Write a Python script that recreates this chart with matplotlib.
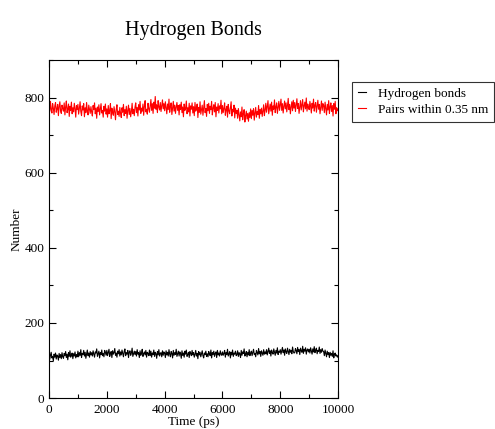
import matplotlib
matplotlib.use('Agg')
import matplotlib.pyplot as plt
import numpy as np
from matplotlib.ticker import MultipleLocator

# Pairs within 0.35 nm (red), one value every 25 ps
pairs = [
    781, 763, 790, 768, 759, 784, 772, 755, 778, 787, 761, 770, 782, 752, 776, 789, 765, 758, 780, 771,
    764, 786, 754, 775, 791, 760, 769, 783, 750, 777, 766, 788, 757, 773, 762, 785, 771, 748, 779, 768,
    782, 756, 771, 789, 763, 752, 778, 767, 784, 749, 773, 760, 787, 765, 754, 780, 769, 758, 776, 762,
    751, 779, 768, 786, 757, 772, 745, 775, 763, 781, 754, 770, 784, 759, 766, 748, 777, 764, 783, 756,
    770, 748, 779, 757, 765, 784, 744, 772, 760, 753, 776, 762, 741, 769, 781, 755, 764, 750, 774, 758,
    747, 773, 761, 782, 752, 768, 758, 777, 745, 766, 780, 755, 771, 749, 763, 785, 757, 769, 752, 775,
    786, 760, 774, 751, 781, 767, 790, 758, 772, 764, 783, 753, 777, 792, 762, 769, 756, 785, 771, 761,
    779, 795, 766, 784, 758, 788, 772, 803, 769, 781, 760, 792, 775, 767, 787, 763, 779, 794, 770, 784,
    765, 789, 774, 757, 783, 768, 796, 761, 777, 786, 755, 772, 790, 764, 780, 758, 775, 787, 766, 779,
    754, 781, 768, 788, 760, 775, 749, 783, 766, 771, 791, 757, 773, 762, 785, 751, 778, 769, 786, 759,
    776, 752, 787, 764, 770, 783, 747, 774, 761, 789, 756, 768, 780, 753, 773, 792, 760, 771, 750, 782,
    765, 785, 758, 777, 768, 790, 754, 772, 781, 762, 787, 749, 775, 766, 784, 759, 778, 770, 793, 757,
    779, 760, 771, 786, 753, 768, 777, 748, 782, 765, 757, 774, 789, 751, 769, 762, 780, 746, 772, 758,
    766, 745, 771, 754, 738, 762, 749, 775, 741, 757, 768, 735, 752, 764, 743, 758, 737, 760, 747, 770,
    744, 766, 753, 771, 740, 759, 774, 748, 763, 755, 779, 745, 768, 757, 772, 750, 764, 781, 752, 767,
    785, 761, 776, 792, 757, 771, 783, 764, 788, 753, 778, 769, 794, 760, 775, 786, 758, 773, 790, 766,
    781, 796, 766, 784, 759, 777, 791, 770, 786, 762, 779, 798, 768, 782, 757, 775, 789, 765, 793, 772,
    787, 763, 780, 797, 771, 784, 758, 776, 792, 767, 781, 795, 762, 778, 788, 770, 799, 764, 783, 774,
    768, 790, 776, 759, 785, 772, 796, 764, 780, 787, 761, 777, 793, 769, 782, 757, 775, 791, 766, 784,
    779, 760, 788, 771, 754, 782, 767, 792, 758, 775, 786, 763, 779, 751, 784, 769, 790, 757, 773, 765,
    770,
]

# Hydrogen bonds (black)
hbonds = [
    118, 103, 114, 122, 107, 111, 99, 117, 109, 120, 104, 115, 112, 101, 119, 108, 116, 105, 121, 110,
    106, 119, 113, 124, 108, 117, 102, 121, 111, 126, 109, 114, 120, 105, 118, 112, 123, 107, 116, 110,
    125, 110, 121, 114, 129, 108, 119, 116, 127, 112, 122, 106, 118, 128, 113, 120, 109, 124, 115, 121,
    112, 126, 117, 109, 123, 120, 131, 111, 118, 125, 107, 121, 116, 128, 113, 119, 110, 127, 122, 114,
    127, 113, 122, 130, 111, 119, 124, 108, 126, 117, 121, 132, 114, 120, 109, 125, 118, 129, 112, 123,
    115, 128, 119, 110, 124, 131, 113, 121, 117, 127, 108, 122, 126, 114, 120, 133, 111, 118, 125, 116,
    124, 112, 129, 117, 121, 108, 126, 114, 120, 130, 111, 118, 123, 115, 127, 109, 122, 119, 113, 128,
    113, 125, 109, 120, 116, 128, 111, 122, 118, 106, 124, 115, 129, 112, 119, 121, 110, 126, 114, 123,
    120, 108, 126, 115, 122, 112, 129, 117, 110, 124, 119, 107, 127, 114, 121, 116, 130, 111, 118, 125,
    112, 123, 118, 106, 126, 114, 120, 109, 125, 117, 128, 111, 116, 122, 108, 124, 119, 113, 127, 115,
    121, 109, 117, 127, 112, 119, 105, 124, 115, 122, 110, 118, 126, 113, 107, 120, 116, 125, 111, 118,
    110, 124, 118, 113, 128, 107, 121, 116, 125, 111, 119, 123, 108, 127, 115, 120, 112, 126, 117, 114,
    123, 114, 119, 127, 109, 121, 116, 130, 112, 118, 124, 107, 122, 115, 128, 111, 120, 117, 125, 113,
    116, 126, 111, 121, 118, 108, 127, 114, 123, 119, 131, 112, 117, 124, 110, 122, 115, 129, 113, 120,
    125, 113, 122, 130, 116, 119, 110, 127, 121, 115, 132, 118, 124, 111, 126, 120, 114, 129, 117, 123,
    118, 129, 115, 124, 133, 119, 126, 112, 128, 121, 117, 131, 123, 114, 127, 120, 134, 116, 125, 122,
    129, 117, 126, 135, 121, 128, 114, 131, 123, 119, 133, 125, 116, 130, 122, 127, 118, 136, 124, 120,
    121, 132, 127, 118, 135, 124, 129, 116, 133, 126, 122, 138, 119, 130, 125, 134, 117, 128, 131, 123,
    130, 120, 134, 126, 117, 131, 123, 137, 121, 128, 133, 118, 127, 124, 136, 119, 129, 122, 132, 125,
    124, 113, 128, 119, 110, 125, 116, 121, 108, 122, 114, 119, 111, 126, 107, 117, 120, 112, 115, 109,
    113,
]

dt = 25  # ps
time = np.arange(len(pairs)) * dt

plt.rcParams['font.family'] = ['Liberation Serif', 'DejaVu Serif']

fig = plt.figure(figsize=(4.95, 4.29), dpi=100)
ax = fig.add_axes([0.099, 0.072, 0.584, 0.788])

ax.plot(time, hbonds, color='black', lw=0.8, label='Hydrogen bonds')
ax.plot(time, pairs, color='red', lw=0.8, label='Pairs within 0.35 nm')

ax.set_xlim(0, 10000)
ax.set_ylim(0, 900)
ax.xaxis.set_major_locator(MultipleLocator(2000))
ax.xaxis.set_minor_locator(MultipleLocator(1000))
ax.yaxis.set_major_locator(MultipleLocator(200))
ax.yaxis.set_minor_locator(MultipleLocator(100))
ax.tick_params(which='both', direction='in', top=True, right=True, labelsize=9.5)
ax.tick_params(axis='x', pad=4)
ax.tick_params(axis='y', pad=3.5)
ax.tick_params(which='major', length=5, width=0.8)
ax.tick_params(which='minor', length=3, width=0.8)
for s in ax.spines.values():
    s.set_linewidth(0.8)

ax.set_xlabel('Time (ps)', fontsize=9.5, labelpad=0)
ax.set_ylabel('Number', fontsize=9.5, labelpad=1)
fig.text(0.391, 0.93, 'Hydrogen Bonds', ha='center', va='center', fontsize=14.5)

leg = fig.legend(loc='upper left', bbox_to_anchor=(0.711, 0.809), fontsize=9.5,
                 frameon=True, fancybox=False, handlelength=0.6, borderpad=0.45,
                 labelspacing=0.25, handletextpad=0.9, borderaxespad=0)
leg.get_frame().set_edgecolor('black')
leg.get_frame().set_linewidth(0.8)

fig.savefig('out.png', dpi=100, facecolor='white')
